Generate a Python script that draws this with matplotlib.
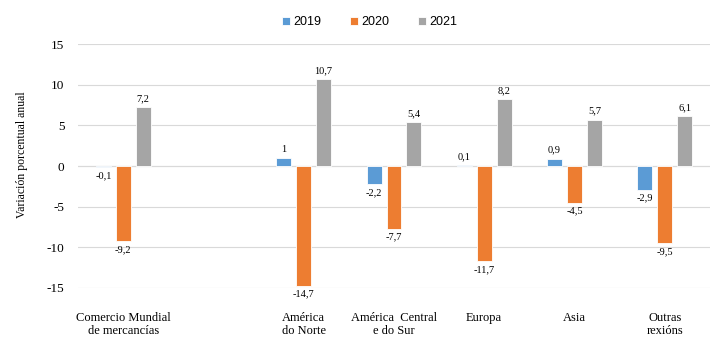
import matplotlib
matplotlib.use("Agg")
import matplotlib.pyplot as plt
import numpy as np

categories = ["Comercio Mundial\nde mercancías", "", "América\ndo Norte",
              "América  Central\ne do Sur", "Europa", "Asia", "Outras\nrexións"]
series_names = ["2019", "2020", "2021"]
v2019 = [-0.1, np.nan, 1.0, -2.2, 0.1, 0.9, -2.9]
v2020 = [-9.2, np.nan, -14.7, -7.7, -11.7, -4.5, -9.5]
v2021 = [7.2, np.nan, 10.7, 5.4, 8.2, 5.7, 6.1]
colors = ["#5B9BD5", "#ED7D31", "#A5A5A5"]
yticks = [-15, -10, -5, 0, 5, 10, 15]

fig = plt.figure(figsize=(7.17, 3.51), dpi=100)
ax = fig.add_axes([0.109, 0.1795, 0.881, 0.695])

x = np.arange(len(categories))
width = 0.166
offsets = [-0.22, 0.0, 0.22]

def fmt(v):
    s = ("%g" % v).replace(".", ",")
    return s

for vals, name, col, off in zip([v2019, v2020, v2021], series_names, colors, offsets):
    bars = ax.bar(x + off, vals, width, color=col, edgecolor="white", linewidth=0.6,
                  label=name, zorder=3)
    for xi, v in zip(x, vals):
        if np.isnan(v):
            continue
        if v >= 0:
            ax.text(xi + off, v + 0.5, fmt(v), ha="center", va="bottom",
                    fontsize=7.5, family="Liberation Serif", clip_on=False)
        else:
            ax.text(xi + off, v - 0.5, fmt(v), ha="center", va="top",
                    fontsize=7.5, family="Liberation Serif", clip_on=False)

ax.set_xlim(-0.5, len(categories) - 0.5)
ax.set_ylim(-15, 15)
ax.set_yticks(yticks)
ax.set_yticklabels([str(t) for t in yticks], fontsize=9.5, family="Liberation Serif")
ax.yaxis.grid(True, color="#d9d9d9", linewidth=0.8, zorder=0)
ax.set_axisbelow(True)
ax.tick_params(axis="y", length=0, pad=10)
ax.tick_params(axis="x", length=0)
for s in ax.spines.values():
    s.set_visible(False)
ax.axhline(0, color="#d9d9d9", linewidth=0.8, zorder=1)

ax.set_xticks([])
for xi, c in zip(x, categories):
    if c:
        ax.text(xi, -18.0, c, ha="center", va="top", fontsize=9,
                family="Liberation Serif", linespacing=1.05, clip_on=False)

ax.set_ylabel("Variación porcentual anual", fontsize=8.5, family="Liberation Serif")
ax.yaxis.set_label_coords(-0.08, 0.545)

leg = ax.legend(loc="center", bbox_to_anchor=(0.462, 1.09), ncol=3, frameon=False,
                prop={"family": "Liberation Sans", "size": 9}, handlelength=0.6,
                handleheight=0.6, handletextpad=0.3, columnspacing=2.3)

fig.savefig("out.png", dpi=100)
